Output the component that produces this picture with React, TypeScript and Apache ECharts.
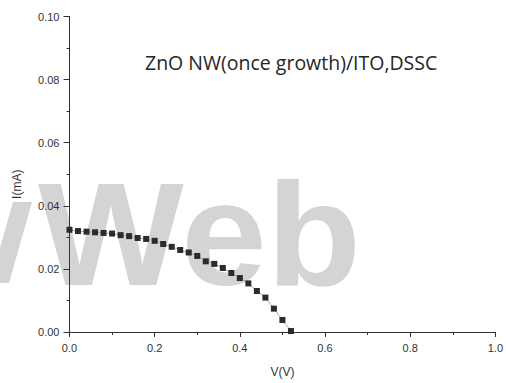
import React, { useEffect, useRef } from "react";
import * as echarts from "echarts";

const voltage = [0, 0.02, 0.04, 0.06, 0.08, 0.1, 0.12, 0.14, 0.16, 0.18, 0.2, 0.22, 0.24, 0.26, 0.28, 0.3, 0.32, 0.34, 0.36, 0.38, 0.4, 0.42, 0.44, 0.46, 0.48, 0.5, 0.52];
const current = [0.0324, 0.032, 0.0318, 0.0316, 0.0314, 0.0312, 0.0307, 0.0304, 0.0298, 0.0295, 0.0289, 0.0279, 0.027, 0.026, 0.0252, 0.0241, 0.0224, 0.0216, 0.0203, 0.0187, 0.0171, 0.0154, 0.013, 0.0109, 0.0074, 0.0038, 0.0003];
const titleText = "ZnO NW(once growth)/ITO,DSSC";
const xName = "V(V)";
const yName = "I(mA)";
const watermark = "Web";

export default function App() {
  const ref = useRef<HTMLDivElement>(null);
  useEffect(() => {
    if (!ref.current) return;
    const chart = echarts.init(ref.current, undefined, { renderer: "svg" });
    const axisColor = "#333";
    const font = "'Liberation Sans', Arial, sans-serif";
    chart.setOption({
      animation: false,
      backgroundColor: "#fff",
      grid: { left: 69.5, right: 8.5, top: 16.5, bottom: 46.5, containLabel: false },
      graphic: [
        {
          type: "text",
          z: -10,
          x: 38,
          y: 161,
          scaleX: 1.05,
          style: {
            text: watermark,
            fill: "#d4d4d4",
            font: "bold 147px 'Liberation Sans', Arial, sans-serif",
            verticalAlign: "top",
          },
        },
        {
          type: "polygon",
          z: -10,
          shape: { points: [[13, 202], [32, 202], [9, 283], [-10, 283]] },
          style: { fill: "#d4d4d4" },
        },
        {
          type: "text",
          z: 5,
          x: 145,
          y: 62,
          style: {
            text: titleText,
            fill: "#262626",
            font: "19.5px 'Open Sans', sans-serif",
            textVerticalAlign: "middle",
          },
        },
      ],
      xAxis: {
        type: "value",
        min: 0,
        max: 1,
        interval: 0.2,
        name: xName,
        nameLocation: "middle",
        nameGap: 34,
        nameTextStyle: { color: axisColor, fontSize: 12, fontFamily: font },
        axisLine: { show: true, lineStyle: { color: axisColor, width: 1 } },
        axisTick: { show: true, inside: false, length: 5, lineStyle: { color: axisColor } },
        minorTick: { show: true, splitNumber: 2, length: 3, lineStyle: { color: axisColor } },
        splitLine: { show: false },
        axisLabel: {
          color: axisColor,
          fontSize: 11,
          fontFamily: font,
          margin: 10,
          formatter: (v: number) => v.toFixed(1),
        },
      },
      yAxis: {
        type: "value",
        min: 0,
        max: 0.1,
        interval: 0.02,
        name: yName,
        nameLocation: "middle",
        nameGap: 47,
        nameTextStyle: { color: axisColor, fontSize: 12, fontFamily: font, padding: [0, 20, 0, 0] },
        axisLine: { show: true, lineStyle: { color: axisColor, width: 1 } },
        axisTick: { show: true, inside: false, length: 6, lineStyle: { color: axisColor } },
        minorTick: { show: true, splitNumber: 2, length: 3, lineStyle: { color: axisColor } },
        splitLine: { show: false },
        axisLabel: {
          color: axisColor,
          fontSize: 11,
          fontFamily: font,
          margin: 10,
          formatter: (v: number) => v.toFixed(2),
        },
      },
      series: [
        {
          type: "line",
          data: voltage.map((v, i) => [v, current[i]]),
          symbol: "rect",
          symbolSize: 6,
          showSymbol: true,
          itemStyle: { color: "#2b2b2b" },
          lineStyle: { color: "#aaa", width: 1 },
          z: 3,
        },
      ],
    });
    return () => chart.dispose();
  }, []);
  return <div ref={ref} style={{ position: "fixed", left: 0, top: 0, width: 506, height: 383 }} />;
}
